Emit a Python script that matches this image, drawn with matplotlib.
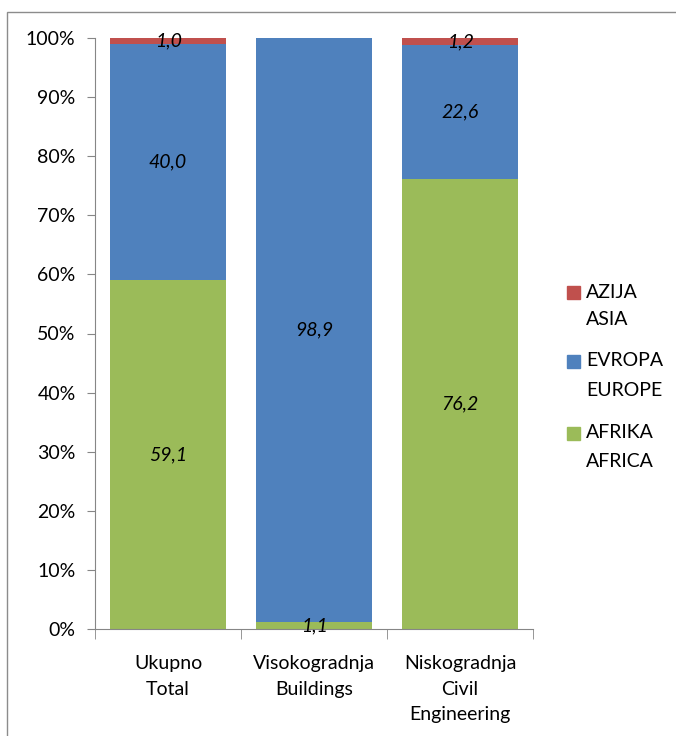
import numpy as np
import matplotlib.pyplot as plt
from matplotlib.patches import Rectangle

plt.rcParams['font.family'] = ['Lato', 'DejaVu Sans']

categories = ['Ukupno\nTotal', 'Visokogradnja\nBuildings', 'Niskogradnja\nCivil\nEngineering']
africa = np.array([59.1, 1.1, 76.2])
europe = np.array([40.0, 98.9, 22.6])
asia = np.array([1.0, 0.0, 1.2])
series = [('AFRIKA\nAFRICA', africa, '#9BBB59'),
          ('EVROPA\nEUROPE', europe, '#4F81BD'),
          ('AZIJA\nASIA', asia, '#C0504D')]

total = africa + europe + asia
fs = 14
W, H = 676, 736

fig = plt.figure(figsize=(W / 100, H / 100), dpi=100)
ax = fig.add_axes([95 / W, 1 - 629 / H, 438 / W, 591 / H])

# chart border
fig.patches.append(Rectangle((7 / W, -0.01), 1.0, 1 - 12 / H + 0.01,
                             transform=fig.transFigure, fill=False,
                             edgecolor='#8c8c8c', linewidth=1.0))

x = np.arange(len(categories))
bottom = np.zeros(len(categories))
for name, vals, col in series:
    share = vals / total * 100
    ax.bar(x, share, 0.79, bottom=bottom, color=col, label=name)
    for i in range(len(x)):
        if vals[i] > 0:
            ax.text(x[i], bottom[i] + share[i] / 2, f'{vals[i]:.1f}'.replace('.', ','),
                    ha='center', va='center', style='italic', fontsize=fs)
    bottom += share

ax.set_xlim(-0.5, len(categories) - 0.5)
ax.set_ylim(0, 100)
ax.set_yticks(np.arange(0, 101, 10))
ax.set_yticklabels([f'{v}%' for v in range(0, 101, 10)], fontsize=fs)
ax.set_xticks(x)
ax.set_xticklabels(categories, fontsize=fs, linespacing=1.6)
ax.tick_params(axis='x', length=0, pad=19)
ax.set_xticks(np.arange(-0.5, len(categories), 1), minor=True)
ax.tick_params(axis='x', which='minor', length=7, color='#868686')
ax.tick_params(axis='y', length=6, color='#868686', pad=8)
for s in ['top', 'right']:
    ax.spines[s].set_visible(False)
for s in ['left', 'bottom']:
    ax.spines[s].set_color('#868686')

# legend: square beside the first line of each two-line label
leg_first = [292, 361, 433]
leg_second = [320, 391, 462]
for k, (name, vals, col) in enumerate(series[::-1]):
    y1 = 1 - leg_first[k] / H
    y2 = 1 - leg_second[k] / H
    fig.patches.append(Rectangle((567 / W, y1 - 6.5 / H), 13 / W, 13 / H,
                                 transform=fig.transFigure, color=col))
    top, sub = name.split('\n')
    fig.text(586 / W, y1, top, va='center', ha='left', fontsize=fs)
    fig.text(586 / W, y2, sub, va='center', ha='left', fontsize=fs)

fig.savefig('out.png', dpi=100)
